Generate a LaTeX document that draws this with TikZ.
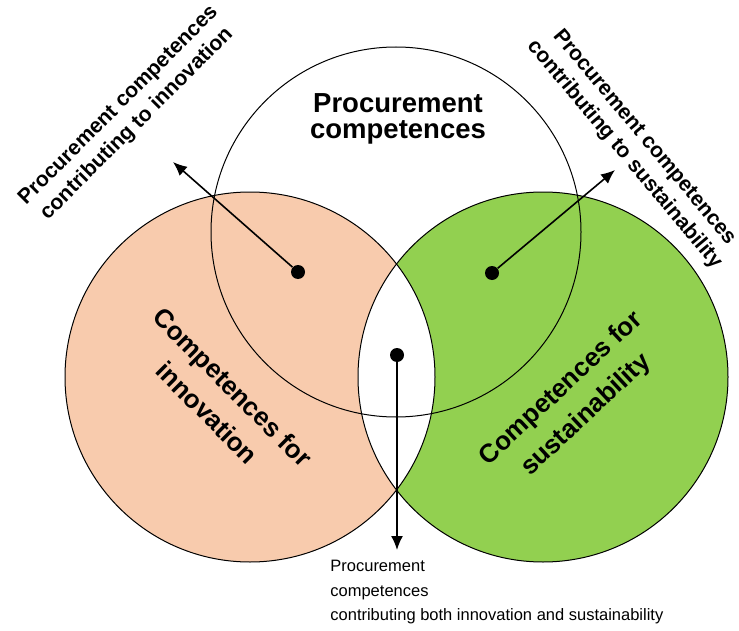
\documentclass[tikz,border=0pt]{standalone}
\usepackage{fontspec}
\setmainfont{Liberation Sans}
\usetikzlibrary{arrows.meta}
\definecolor{peach}{RGB}{248,203,173}
\definecolor{leaf}{RGB}{146,208,80}
\begin{document}
\begin{tikzpicture}[x=0.5pt,y=-0.5pt,
  ring/.style={draw=black,line width=0.5pt},
  dot/.style={circle,fill=black,inner sep=0pt,minimum size=7pt},
  pointer/.style={-{Latex[length=7pt,width=6pt]},line width=0.8pt},
  big/.style={font=\bfseries\fontsize{13}{18}\selectfont,align=center},
  side/.style={font=\bfseries\fontsize{10.6}{13}\selectfont,align=center}]
  \useasboundingbox (0,0) rectangle (739,631);
  \coordinate (proc) at (396,232);
  \coordinate (inno) at (250,377);
  \coordinate (sust) at (543,377);

  \fill[peach] (inno) circle[radius=185];
  \fill[leaf] (sust) circle[radius=185];
  \begin{scope}
    \clip (inno) circle[radius=185];
    \fill[white] (sust) circle[radius=185];
  \end{scope}
  \foreach \c in {proc,inno,sust}
    \draw[ring] (\c) circle[radius=185];

  \node[font=\bfseries\fontsize{13.75}{13}\selectfont,align=center] (title) at (398,119) {Procurement\\competences};
  \node[big,rotate=-45] (cinno) at (220,400) {Competences for\\innovation};
  \node[big,rotate=43] (csust) at (574,402) {Competences for\\sustainability};

  \node[side,rotate=45] (linno) at (128,115) {Procurement competences\\contributing to innovation};
  \node[side,rotate=-50] (lsust) at (634,146) {Procurement competences\\contributing to sustainability};
  \node[font=\fontsize{8.25}{12.25}\selectfont,align=left,anchor=north west,inner sep=0pt] (both) at (330,560)
    {Procurement\\competences\\contributing both innovation and sustainability};

  \node[dot] (d1) at (298,272) {};
  \node[dot] (d2) at (492,273) {};
  \node[dot] (d3) at (397,355) {};
  \coordinate (t1) at (173,162);
  \coordinate (t2) at (615,170);
  \coordinate (t3) at (397,550);
  \draw[pointer] (d1) -- (t1);
  \draw[pointer] (d2) -- (t2);
  \draw[pointer] (d3) -- (t3);
\end{tikzpicture}
\end{document}
